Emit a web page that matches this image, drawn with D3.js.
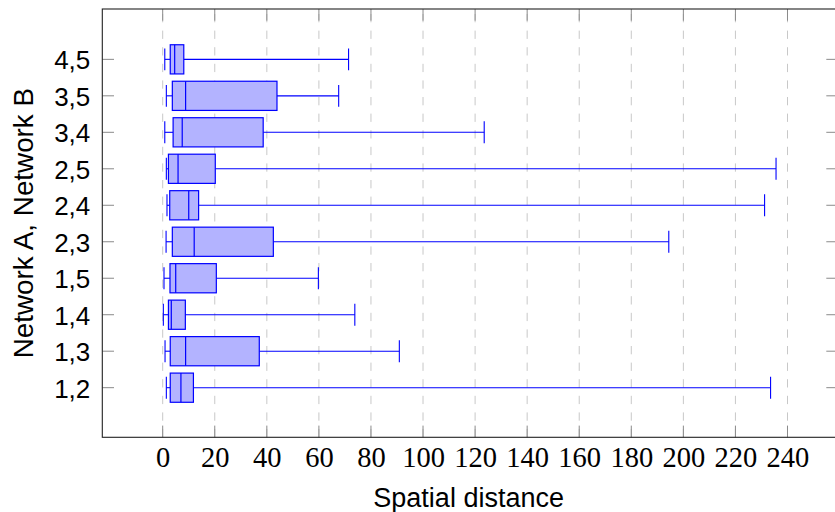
<!DOCTYPE html>
<html>
<head>
<meta charset="utf-8">
<script src="https://d3js.org/d3.v7.min.js"></script>
<style>
  body { margin: 0; background: #fff; }
  svg { display: block; }
</style>
</head>
<body>
<svg id="chart"></svg>
<script>
  // pairs of networks (bottom to top)
  var categories = ["1,2", "1,3", "1,4", "1,5", "2,3", "2,4", "2,5", "3,4", "3,5", "4,5"];
  // box plot statistics
  var lowerWhisker  = [1.4, 0.9, 0.25, 0.5, 1.3, 1.65, 1.4, 0.8, 1.4, 0.8];
  var lowerQuartile = [2.9, 2.9, 2.2, 2.8, 3.7, 2.7, 2.2, 4.0, 3.7, 2.9];
  var median        = [7.0, 8.8, 3.3, 5.0, 12.1, 10.0, 5.9, 7.5, 8.8, 4.6];
  var upperQuartile = [11.8, 37.1, 8.7, 20.6, 42.5, 13.8, 20.2, 38.6, 43.9, 8.1];
  var upperWhisker  = [233.5, 90.9, 73.8, 59.8, 194.4, 231.2, 235.6, 123.5, 67.6, 71.4];
  var xTicks = [0, 20, 40, 60, 80, 100, 120, 140, 160, 180, 200, 220, 240];

  var width = 835, height = 512;
  // plot box (note: "top" is reserved on window, so use prefixed names)
  var pLeft = 102.3, pRight = 838, pTop = 9, pBottom = 437.3;
  var tickLen = 11.7;

  var svg = d3.select('#chart')
    .attr('width', width)
    .attr('height', height);

  var x = d3.scaleLinear()
    .domain([-23.2, 259.4])
    .range([pLeft, pRight]);

  // categories sit at positions 1..10
  var y = d3.scaleLinear()
    .domain([-0.36, 11.38])
    .range([pBottom, pTop]);

  var rows = categories.map(function(c, i) {
    return {cat: c, pos: i + 1, lw: lowerWhisker[i], q1: lowerQuartile[i],
            med: median[i], q3: upperQuartile[i], uw: upperWhisker[i]};
  });

  // dashed grid
  svg.append('g').selectAll('line')
    .data(xTicks)
    .enter().append('line')
    .attr('x1', function(d) { return x(d); })
    .attr('x2', function(d) { return x(d); })
    .attr('y1', pBottom)
    .attr('y2', pTop)
    .attr('stroke', '#c8c8c8')
    .attr('stroke-width', 1)
    .attr('stroke-dasharray', '8.3,8.3');

  // tick marks (inside, both sides)
  var ticks = svg.append('g').attr('stroke', '#8a8a8a').attr('stroke-width', 1);
  ticks.selectAll('.tb').data(xTicks).enter().append('line')
    .attr('x1', function(d) { return x(d); }).attr('x2', function(d) { return x(d); })
    .attr('y1', pBottom).attr('y2', pBottom - tickLen);
  ticks.selectAll('.tt').data(xTicks).enter().append('line')
    .attr('x1', function(d) { return x(d); }).attr('x2', function(d) { return x(d); })
    .attr('y1', pTop).attr('y2', pTop + tickLen);
  ticks.selectAll('.tl').data(rows).enter().append('line')
    .attr('x1', pLeft).attr('x2', pLeft + tickLen)
    .attr('y1', function(d) { return y(d.pos); }).attr('y2', function(d) { return y(d.pos); });
  ticks.selectAll('.tr').data(rows).enter().append('line')
    .attr('x1', pRight).attr('x2', pRight - tickLen)
    .attr('y1', function(d) { return y(d.pos); }).attr('y2', function(d) { return y(d.pos); });

  // boxes
  var boxH = y(0) - y(0.8);
  var capH = y(0) - y(0.6);
  var g = svg.append('g');
  var box = g.selectAll('g.box').data(rows).enter().append('g').attr('class', 'box');

  box.append('line') // lower whisker
    .attr('x1', function(d) { return x(d.lw); }).attr('x2', function(d) { return x(d.q1); })
    .attr('y1', function(d) { return y(d.pos); }).attr('y2', function(d) { return y(d.pos); })
    .attr('stroke', 'blue').attr('stroke-width', 1.1);
  box.append('line') // upper whisker
    .attr('x1', function(d) { return x(d.q3); }).attr('x2', function(d) { return x(d.uw); })
    .attr('y1', function(d) { return y(d.pos); }).attr('y2', function(d) { return y(d.pos); })
    .attr('stroke', 'blue').attr('stroke-width', 1.1);
  box.append('line') // lower cap
    .attr('x1', function(d) { return x(d.lw); }).attr('x2', function(d) { return x(d.lw); })
    .attr('y1', function(d) { return y(d.pos) - capH / 2; }).attr('y2', function(d) { return y(d.pos) + capH / 2; })
    .attr('stroke', 'blue').attr('stroke-width', 1.1);
  box.append('line') // upper cap
    .attr('x1', function(d) { return x(d.uw); }).attr('x2', function(d) { return x(d.uw); })
    .attr('y1', function(d) { return y(d.pos) - capH / 2; }).attr('y2', function(d) { return y(d.pos) + capH / 2; })
    .attr('stroke', 'blue').attr('stroke-width', 1.1);
  box.append('rect')
    .attr('x', function(d) { return x(d.q1); })
    .attr('width', function(d) { return x(d.q3) - x(d.q1); })
    .attr('y', function(d) { return y(d.pos) - boxH / 2; })
    .attr('height', boxH)
    .attr('fill', '#b3b3ff')
    .attr('stroke', 'blue').attr('stroke-width', 1.2);
  box.append('line') // median
    .attr('x1', function(d) { return x(d.med); }).attr('x2', function(d) { return x(d.med); })
    .attr('y1', function(d) { return y(d.pos) - boxH / 2; }).attr('y2', function(d) { return y(d.pos) + boxH / 2; })
    .attr('stroke', 'blue').attr('stroke-width', 1.2);

  // axis frame
  svg.append('rect')
    .attr('x', pLeft).attr('y', pTop)
    .attr('width', pRight - pLeft).attr('height', pBottom - pTop)
    .attr('fill', 'none').attr('stroke', '#222').attr('stroke-width', 1.1);

  // x labels
  var xAxis = svg.append('g')
    .attr('transform', 'translate(0,' + pBottom + ')')
    .call(d3.axisBottom(x).tickValues(xTicks).tickSize(0).tickFormat(d3.format('d')));
  xAxis.select('.domain').remove();
  xAxis.selectAll('text')
    .attr('y', 30).attr('dy', null)
    .attr('fill', '#000')
    .style('font-family', '"Liberation Serif", serif')
    .style('font-size', '28.5px');

  // y labels
  var yAxis = svg.append('g')
    .attr('transform', 'translate(' + pLeft + ',0)')
    .call(d3.axisLeft(y).tickValues(rows.map(function(d) { return d.pos; }))
      .tickSize(0).tickFormat(function(d) { return categories[d - 1]; }));
  yAxis.select('.domain').remove();
  yAxis.selectAll('text')
    .attr('x', -12).attr('dy', '0.36em')
    .attr('fill', '#000')
    .style('font-family', '"Liberation Sans", sans-serif')
    .style('font-size', '26px');

  // titles
  svg.append('text')
    .attr('x', (pLeft + 835) / 2)
    .attr('y', 506.5)
    .attr('text-anchor', 'middle')
    .style('font-family', '"Liberation Sans", sans-serif')
    .style('font-size', '27px')
    .text('Spatial distance');

  svg.append('text')
    .attr('transform', 'translate(33,' + ((pTop + pBottom) / 2) + ') rotate(-90)')
    .attr('text-anchor', 'middle')
    .style('font-family', '"Liberation Sans", sans-serif')
    .style('font-size', '27.8px')
    .text('Network A, Network B');
</script>
</body>
</html>
